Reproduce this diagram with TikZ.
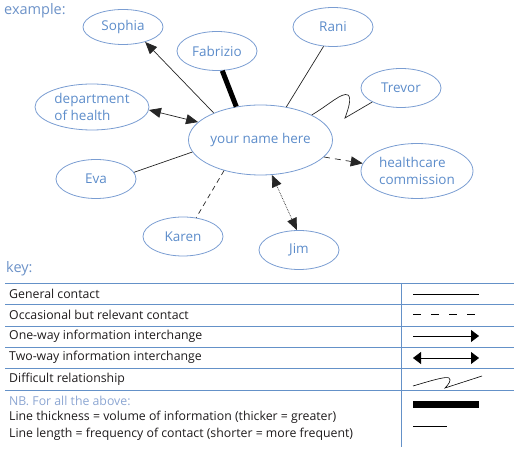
\documentclass[tikz,border=0pt]{standalone}
\usepackage{fontspec}
\setmainfont{Open Sans}
\usetikzlibrary{arrows.meta,shapes.geometric}
\definecolor{nodeblue}{RGB}{92,140,202}
\definecolor{ellblue}{RGB}{122,157,210}
\definecolor{keyblue}{RGB}{100,145,200}
\definecolor{headblue}{RGB}{108,146,200}
\definecolor{nbblue}{RGB}{140,166,210}
\definecolor{keytext}{RGB}{30,27,28}
\tikzset{
  person/.style={ellipse, draw=ellblue, line width=0.8pt, minimum width=80pt, minimum height=39pt,
    inner sep=0pt, text=nodeblue, font=\fontsize{13.5}{16.5}\selectfont, align=left},
  link/.style={draw=black!85, line width=0.7pt},
  tip/.style={-{Triangle[length=12pt,width=10pt]}},
  tips/.style={{Triangle[length=12pt,width=10pt]}-{Triangle[length=12pt,width=10pt]}},
  rule/.style={draw=keyblue, line width=0.8pt},
  keylabel/.style={anchor=west, text=keytext, font=\fontsize{12.3}{14}\selectfont, inner sep=0pt},
  heading/.style={anchor=north west, text=headblue, font=\fontsize{14.5}{16}\selectfont, inner sep=0pt},
  sample/.style={draw=black, line width=0.8pt},
}
\begin{document}
\begin{tikzpicture}[x=1pt,y=-1pt]
\useasboundingbox (0,0) rectangle (520,454);

% heading
\node[heading] (ex) at (4,3) {example:};

% nodes
\node[person, minimum width=144pt, minimum height=70pt] (you) at (260.5,140) {your name here};
\node[person, minimum height=35pt] (sophia) at (123,27) {Sophia};
\node[person, minimum height=39pt] (fabrizio) at (217,51) {Fabrizio};
\node[person, minimum width=114pt, minimum height=46pt] (doh) at (92,107) {department\\of health};
\node[person] (rani) at (333,27) {Rani};
\node[person] (trevor) at (401,88) {Trevor};
\node[person] (eva) at (96,179) {Eva};
\node[person] (karen) at (183,236.5) {Karen};
\node[person] (jim) at (299,250) {Jim};
\node[person, minimum width=112pt, minimum height=55pt] (hc) at (417,171) {healthcare\\commission};

% connectors
\draw[link, tip] (you.150) -- (sophia.-34);
\draw[draw=black, line width=5pt] (you.126) -- (fabrizio.-75);
\draw[link, tips] (you.164.5) -- (doh.-3);
\draw[link] (you.52.6) -- (rani.-116.6);
\draw[link] (you.26) .. controls (330,104) and (342,92) .. (348,95)
  .. controls (352,98) and (348,110) .. (345,118) -- (trevor.-154);
\draw[link] (you.-170) -- (eva.10);
\draw[link, dash pattern=on 5pt off 4pt] (you.-140) -- (karen.55);
\draw[link, tip, dash pattern=on 6pt off 5pt] (you.-15) -- (hc.172);
\draw[link, tips, densely dotted] (you.-72.5) -- (jim.96);

% key
\node[heading] (key) at (6,261) {key:};
\coordinate (l1) at (5,283); \coordinate (r1) at (514,283);
\coordinate (l2) at (5,304); \coordinate (r2) at (514,304);
\coordinate (l3) at (5,326); \coordinate (r3) at (514,326);
\coordinate (l4) at (5,347); \coordinate (r4) at (514,347);
\coordinate (l5) at (5,368); \coordinate (r5) at (514,368);
\coordinate (l6) at (5,390); \coordinate (r6) at (514,390);
\coordinate (vt) at (401,283); \coordinate (vb) at (401,447);
\foreach \i in {1,...,6} { \draw[rule] (l\i) -- (r\i); }
\draw[rule] (vt) -- (vb);

\node[keylabel] (k1) at (9,293.5) {General contact};
\node[keylabel] (k2) at (9,315) {Occasional but relevant contact};
\node[keylabel] (k3) at (9,336.5) {One-way information interchange};
\node[keylabel] (k4) at (9,357.5) {Two-way information interchange};
\node[keylabel] (k5) at (9,379) {Difficult relationship};
\node[keylabel, text=nbblue] (k6) at (9,400.5) {NB. For all the above:};
\node[keylabel] (k7) at (9,417.5) {Line thickness = volume of information (thicker = greater)};
\node[keylabel] (k8) at (9,434.5) {Line length = frequency of contact (shorter = more frequent)};

% key samples
\coordinate (s1a) at (413,294); \coordinate (s1b) at (479,294);
\draw[sample] (s1a) -- (s1b);
\coordinate (s2a) at (413,314); \coordinate (s2b) at (479,314);
\draw[sample, dash pattern=on 8pt off 10pt] (s2a) -- (s2b);
\coordinate (s3a) at (413,336); \coordinate (s3b) at (479,336);
\draw[sample, -{Triangle[length=8pt,width=12pt]}] (s3a) -- (s3b);
\coordinate (s4a) at (413,358); \coordinate (s4b) at (479,358);
\draw[sample, {Triangle[length=8pt,width=12pt]}-{Triangle[length=8pt,width=12pt]}] (s4a) -- (s4b);
\coordinate (s5a) at (413,386); \coordinate (s5b) at (482,376);
\draw[draw=black, line width=0.6pt] (s5a) .. controls (430,381) and (446,376) .. (449,378)
  .. controls (452,380) and (448,385) .. (445,388) -- (s5b);
\coordinate (s6a) at (413,405); \coordinate (s6b) at (479,405);
\draw[draw=black, line width=7pt] (s6a) -- (s6b);
\coordinate (s7a) at (413,426); \coordinate (s7b) at (447,426);
\draw[sample] (s7a) -- (s7b);
\end{tikzpicture}
\end{document}
